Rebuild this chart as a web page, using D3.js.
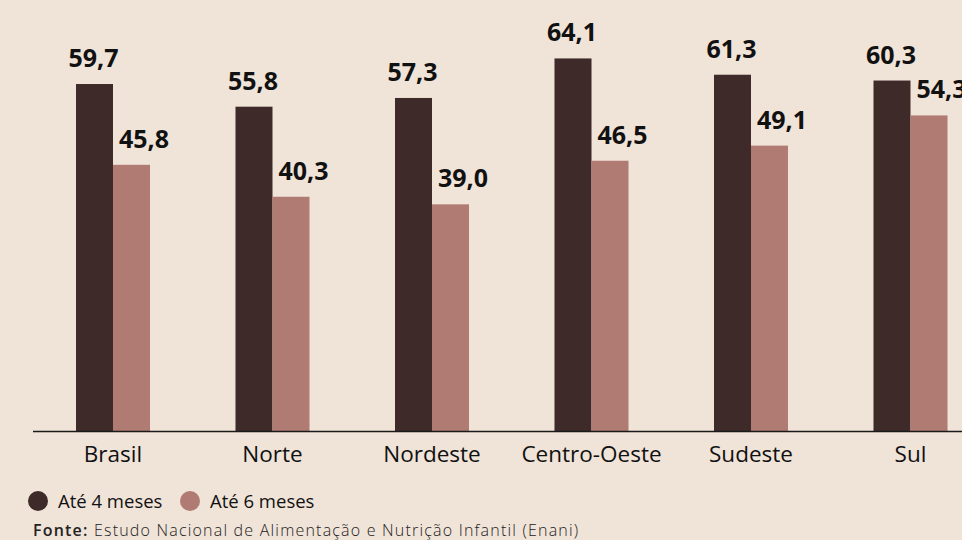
<!DOCTYPE html>
<html>
<head>
<meta charset="utf-8">
<script src="https://cdn.jsdelivr.net/npm/d3@7"></script>
<style>
  body { margin: 0; background: #f0e3d8; }
  svg { display: block; }
</style>
</head>
<body>
<script>
// Data
const regions = ["Brasil", "Norte", "Nordeste", "Centro-Oeste", "Sudeste", "Sul"];
const ate4 = [59.7, 55.8, 57.3, 64.1, 61.3, 60.3];
const ate6 = [45.8, 40.3, 39.0, 46.5, 49.1, 54.3];
const seriesNames = ["Até 4 meses", "Até 6 meses"];
const seriesColors = ["#3d2a29", "#b07b73"];

const config = { width: 962, height: 540 };
const font = "Open Sans";
const fmt = v => v.toFixed(1).replace(".", ",");

const svg = d3.select("body").append("svg")
  .attr("width", config.width)
  .attr("height", config.height);

svg.append("rect")
  .attr("width", config.width)
  .attr("height", config.height)
  .attr("fill", "#f0e3d8");

// Scales
const x = d3.scaleBand()
  .domain(regions)
  .range([33.25, 990.25])
  .paddingInner(0.536)
  .paddingOuter(0.268);

const x1 = d3.scaleBand()
  .domain(seriesNames)
  .range([0, x.bandwidth()]);

const y = d3.scaleLinear()
  .domain([0, 70])
  .range([431, 431 - 70 * 5.812]);

const rows = regions.map((r, i) => ({ region: r, values: [ate4[i], ate6[i]] }));

const group = svg.selectAll(".group")
  .data(rows)
  .enter()
  .append("g")
  .attr("class", "group")
  .attr("transform", d => `translate(${x(d.region)},0)`);

group.selectAll("rect")
  .data(d => d.values)
  .enter()
  .append("rect")
  .attr("x", (d, i) => x1(seriesNames[i]))
  .attr("y", d => y(d))
  .attr("width", x1.bandwidth())
  .attr("height", d => y(0) - y(d))
  .attr("fill", (d, i) => seriesColors[i]);

// value labels
group.selectAll(".val")
  .data(d => d.values)
  .enter()
  .append("text")
  .attr("class", "val")
  .attr("x", (d, i) => i === 0 ? x1(seriesNames[0]) + x1.bandwidth() / 2 - 1 : x1(seriesNames[1]) + 6)
  .attr("y", d => y(d) - 17)
  .attr("text-anchor", (d, i) => i === 0 ? "middle" : "start")
  .attr("font-family", font)
  .attr("font-weight", "bold")
  .attr("font-size", 25)
  .attr("fill", "#111")
  .text(d => fmt(d));

// axis line
svg.append("line")
  .attr("x1", 33)
  .attr("x2", config.width)
  .attr("y1", y(0) + 0.5)
  .attr("y2", y(0) + 0.5)
  .attr("stroke", "#1a1a1a")
  .attr("stroke-width", 1.5);

// category labels
svg.selectAll(".cat")
  .data(regions)
  .enter()
  .append("text")
  .attr("class", "cat")
  .attr("x", d => x(d) + x.bandwidth() / 2)
  .attr("y", 462)
  .attr("text-anchor", "middle")
  .attr("font-family", font)
  .attr("font-size", 22.5)
  .attr("fill", "#111")
  .text(d => d);

// legend
const legendX = [38, 190];
const legend = svg.selectAll(".legend")
  .data(seriesNames)
  .enter()
  .append("g")
  .attr("class", "legend")
  .attr("transform", (d, i) => `translate(${legendX[i]},501)`);

legend.append("circle")
  .attr("r", 10)
  .attr("fill", (d, i) => seriesColors[i]);

legend.append("text")
  .attr("x", 20)
  .attr("y", 7)
  .attr("font-family", font)
  .attr("font-size", 18.5)
  .attr("fill", "#111")
  .text(d => d);

// source
const source = svg.append("text")
  .attr("x", 33)
  .attr("y", 536)
  .attr("font-family", font)
  .attr("font-size", 16)
  .attr("letter-spacing", 1.2)
  .attr("fill", "#222");
source.append("tspan").attr("font-weight", 600).text("Fonte: ");
source.append("tspan").attr("font-weight", 300).text("Estudo Nacional de Alimentação e Nutrição Infantil (Enani)");
</script>
</body>
</html>
